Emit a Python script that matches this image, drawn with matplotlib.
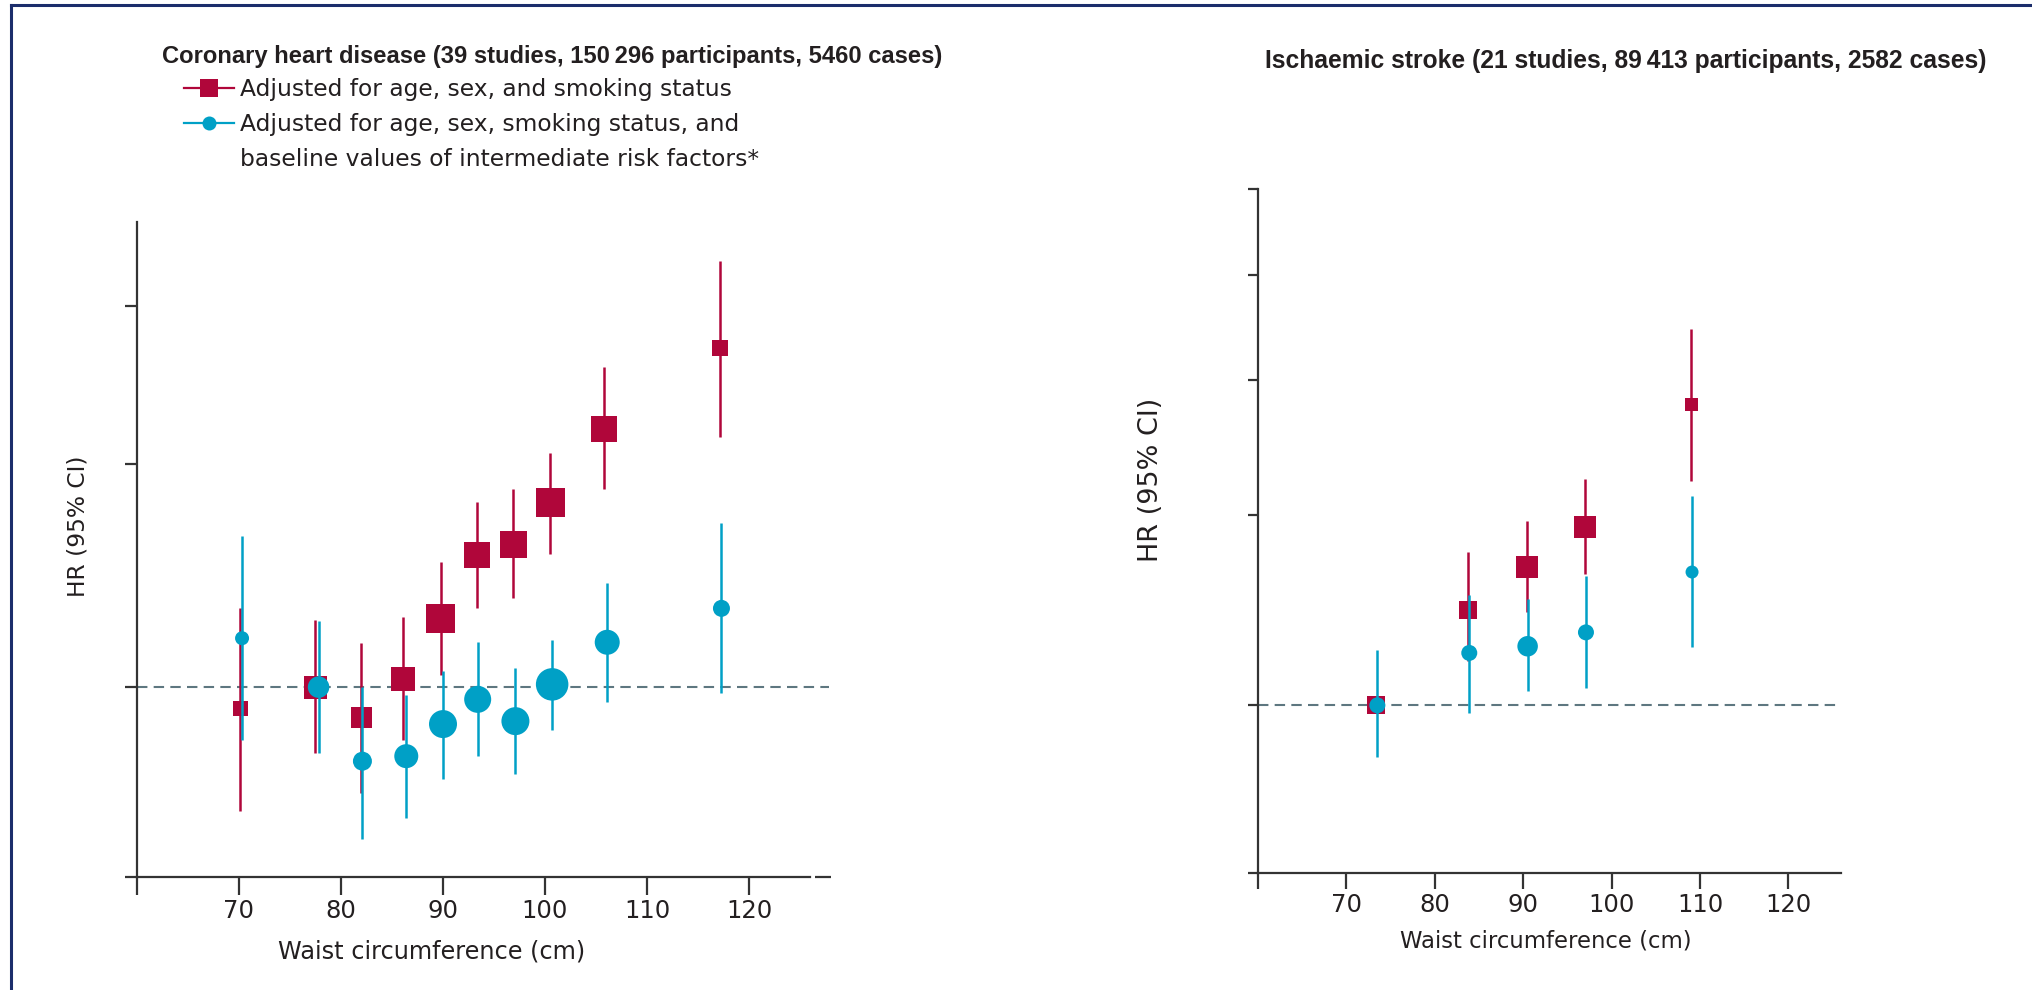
import matplotlib
matplotlib.use("Agg")
import matplotlib.pyplot as plt
from matplotlib.lines import Line2D
from matplotlib.ticker import NullLocator, NullFormatter, FixedLocator

# ---------------- data ----------------
# Coronary heart disease, adjusted for age, sex, smoking (red squares)
chd_x_red = [70.1, 77.5, 82.0, 86.1, 89.8, 93.3, 96.9, 100.5, 105.8, 117.2]
chd_hr_red = [0.961, 1.0, 0.947, 1.015, 1.132, 1.271, 1.297, 1.40, 1.599, 1.852]
chd_lo_red = [0.798, 0.887, 0.825, 0.908, 1.022, 1.154, 1.176, 1.273, 1.433, 1.575]
chd_hi_red = [1.154, 1.13, 1.083, 1.136, 1.255, 1.40, 1.433, 1.53, 1.789, 2.17]
chd_wt_red = [15, 23, 21, 24, 29, 26, 27, 29, 26, 16]

# Coronary heart disease, further adjusted for intermediate risk factors (blue circles)
chd_x_blue = [70.3, 77.8, 82.1, 86.4, 90.0, 93.4, 97.1, 100.7, 106.1, 117.3]
chd_hr_blue = [1.093, 1.0, 0.874, 0.882, 0.935, 0.978, 0.94, 1.005, 1.085, 1.154]
chd_lo_blue = [0.908, 0.887, 0.759, 0.788, 0.846, 0.882, 0.854, 0.925, 0.973, 0.989]
chd_hi_blue = [1.316, 1.127, 1.0, 0.985, 1.03, 1.085, 1.035, 1.089, 1.208, 1.347]
chd_wt_blue = [14, 21.5, 19, 24, 28, 27, 28, 32.5, 25, 17]

# Ischaemic stroke
is_x_red = [73.4, 83.8, 90.4, 97.0, 109.0]
is_hr_red = [1.0, 1.224, 1.343, 1.463, 1.896]
is_lo_red = [1.0, 1.10, 1.22, 1.322, 1.612]
is_hi_red = [1.0, 1.385, 1.481, 1.62, 2.228]
is_wt_red = [18, 18, 22, 22, 13]

is_x_blue = [73.5, 83.9, 90.5, 97.1, 109.1]
is_hr_blue = [1.0, 1.118, 1.134, 1.168, 1.328]
is_lo_blue = [0.896, 0.984, 1.03, 1.038, 1.132]
is_hi_blue = [1.124, 1.265, 1.253, 1.316, 1.56]
is_wt_blue = [16, 16, 20.5, 16, 13]

x_ticks = [60, 70, 80, 90, 100, 110, 120]
x_tick_labels = ["", "70", "80", "90", "100", "110", "120"]
chd_y_ticks = [0.708, 1.0, 1.5, 2.0]
is_y_ticks = [0.7, 1.0, 1.5, 2.0, 2.5, 3.0]

title_chd = "Coronary heart disease (39 studies, 150\u2009296 participants, 5460 cases)"
title_is = "Ischaemic stroke (21 studies, 89\u2009413 participants, 2582 cases)"
legend_labels = ["Adjusted for age, sex, and smoking status",
                 "Adjusted for age, sex, smoking status, and",
                 "baseline values of intermediate risk factors*"]
xlabel = "Waist circumference (cm)"
ylabel = "HR (95% CI)"

# ---------------- style ----------------
RED = "#B0063A"
BLUE = "#00A0C6"
REFC = "#5E7780"
AXC = "#333333"
TXT = "#231F20"
NAVY = "#1B2D6B"
W, H = 2033, 990
PX = 72.0 / 100.0  # points per pixel at dpi 100

plt.rcParams["font.family"] = ["DejaVu Sans"]

fig = plt.figure(figsize=(W / 100, H / 100), dpi=100)


def rect(x0, y0, x1, y1):
    return [x0 / W, 1 - y1 / H, (x1 - x0) / W, (y1 - y0) / H]


ax1 = fig.add_axes(rect(137, 222, 137 + 67.8 * 10.2, 877))
ax2 = fig.add_axes(rect(1258, 189, 1258 + 66 * 8.84, 873))


def style_axis(ax, xlim, ylim, yticks, xtick_len, ytick_len, spine_end):
    ax.set_yscale("log")
    ax.set_xlim(*xlim)
    ax.set_ylim(*ylim)
    for s in ("top", "right"):
        ax.spines[s].set_visible(False)
    for s in ("left", "bottom"):
        ax.spines[s].set_linewidth(1.6)
        ax.spines[s].set_color(AXC)
    ax.spines["bottom"].set_bounds(xlim[0], spine_end)
    ax.yaxis.set_major_locator(FixedLocator(yticks))
    ax.yaxis.set_major_formatter(NullFormatter())
    ax.yaxis.set_minor_locator(NullLocator())
    ax.yaxis.set_minor_formatter(NullFormatter())
    ax.set_xticks(x_ticks)
    ax.set_xticklabels(x_tick_labels)
    ax.tick_params(axis="x", length=xtick_len, width=1.6, color=AXC,
                   labelsize=17.5, labelcolor=TXT, pad=3)
    ax.tick_params(axis="y", length=ytick_len, width=1.6, color=AXC)
    ax.axhline(1.0, color=REFC, lw=1.5, ls=(0, (5, 3)), zorder=1)


def draw_series(ax, x, hr, lo, hi, wt, color, marker, z):
    ax.vlines(x, lo, hi, color=color, lw=1.8, zorder=z)
    ax.scatter(x, hr, s=[(w * PX) ** 2 for w in wt], marker=marker,
               color=color, linewidths=0, zorder=z + 0.5)


style_axis(ax1, (60, 127.8), (0.708, 2.33), chd_y_ticks, 13, 8.6, 126)
style_axis(ax2, (60, 126), (0.7, 3.0), is_y_ticks, 11.5, 7.2, 126)

draw_series(ax1, chd_x_red, chd_hr_red, chd_lo_red, chd_hi_red, chd_wt_red, RED, "s", 2)
draw_series(ax1, chd_x_blue, chd_hr_blue, chd_lo_blue, chd_hi_blue, chd_wt_blue, BLUE, "o", 4)
draw_series(ax2, is_x_red, is_hr_red, is_lo_red, is_hi_red, is_wt_red, RED, "s", 2)
draw_series(ax2, is_x_blue, is_hr_blue, is_lo_blue, is_hi_blue, is_wt_blue, BLUE, "o", 4)

# small detached piece of the x axis line at the right end (left panel)
ax1.plot([126.5, 128.0], [0.708, 0.708], color=AXC, lw=1.6, clip_on=False,
         solid_capstyle="butt", zorder=3)

# axis labels
for ax, xc, yc, xyl, yyl in ((ax1, 0.426, -0.113, -0.0853, 0.536),
                             (ax2, 0.494, -0.100, -0.1835, 0.575)):
    ax.set_xlabel(xlabel, fontsize=18, color=TXT)
    ax.xaxis.set_label_coords(xc, yc)
    ax.xaxis.label.set_va("center")
    ax.set_ylabel(ylabel, fontsize=18, color=TXT)
    ax.yaxis.set_label_coords(xyl, yyl)
    ax.yaxis.label.set_va("center")

# titles
t1 = fig.text(162 / W, 1 - 57 / H, title_chd, fontsize=15, fontweight="bold",
              family=["Liberation Sans", "DejaVu Sans"], color=TXT, ha="left", va="center")
t2 = fig.text(1265 / W, 1 - 61 / H, title_is, fontsize=15, fontweight="bold",
              family=["Liberation Sans", "DejaVu Sans"], color=TXT, ha="left", va="center")

# ---- fit text widths to the reference ----
fig.canvas.draw()
rend = fig.canvas.get_renderer()


def fit(t, target, vertical=False):
    bb = t.get_window_extent(rend)
    size = bb.height if vertical else bb.width
    t.set_fontsize(t.get_fontsize() * target / size)


fit(t1, 784)
fit(t2, 726)
fit(ax1.xaxis.label, 308)
fit(ax2.xaxis.label, 292)
fit(ax1.yaxis.label, 142, vertical=True)
fit(ax2.yaxis.label, 165, vertical=True)

tmp = fig.text(0, 0, legend_labels[0], fontsize=18)
bb = tmp.get_window_extent(rend)
leg_fs = 18 * 493 / bb.width
tmp.remove()

# legend
em = leg_fs / PX
handles = [Line2D([], [], color=RED, lw=1.6, marker="s", ms=18 * PX, mew=0),
           Line2D([], [], color=BLUE, lw=1.6, marker="o", ms=14 * PX, mew=0),
           Line2D([], [], color="none")]
leg = fig.legend(handles, legend_labels, loc="upper left",
                 bbox_to_anchor=(184 / W, 1 - 78 / H), frameon=False,
                 fontsize=leg_fs, handlelength=50 / em, handletextpad=6 / em,
                 labelspacing=0.52, borderpad=0, borderaxespad=0)
for t in leg.get_texts():
    t.set_color(TXT)

# frame lines (top and left) of the figure panel
fig.add_artist(Line2D([11 / W, 11 / W], [0, 1 - 5 / H], transform=fig.transFigure,
                      color=NAVY, lw=2.2))
fig.add_artist(Line2D([11 / W, 1], [1 - 5 / H, 1 - 5 / H], transform=fig.transFigure,
                      color=NAVY, lw=2.2))

fig.savefig("out.png", dpi=100)
